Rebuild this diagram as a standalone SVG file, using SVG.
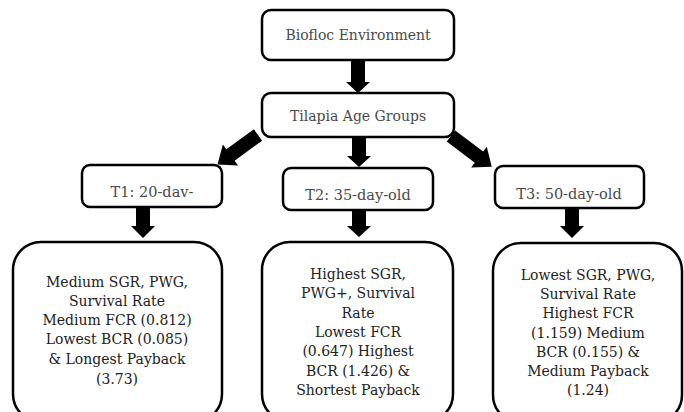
<svg xmlns="http://www.w3.org/2000/svg" width="684" height="412" viewBox="0 0 684 412">
<style>
.box{fill:#fff;stroke:#000;stroke-width:2.5}
.t{font-family:"DejaVu Serif","Liberation Serif",serif;text-anchor:middle}
.top{font-size:14px;fill:#4a4a4a}
.mid{font-size:14.5px;fill:#4a4a4a}
.bot{font-size:14px;fill:#222}
.arr{fill:#000}
</style>
<rect width="684" height="412" fill="#fff"/>
<g id="connectors">
<polygon class="arr" points="351,60 365,60 365,82 370,82 358,93 346,82 351,82"/>
<polygon class="arr" points="352,137 366,137 366,156 371,156 359,167 347,156 352,156"/>
<polygon class="arr" points="136,207 150,207 150,226 155,226 143,238 131,226 136,226"/>
<polygon class="arr" points="352,210 366,210 366,226 371,226 359,237 347,226 352,226"/>
<polygon class="arr" points="565,208 579,208 579,226 584,226 572,238 560,226 565,226"/>
<polygon class="arr" transform="translate(258,135) rotate(144)" points="0,-7 34,-7 34,-13 50,0 34,13 34,7 0,7"/>
<polygon class="arr" transform="translate(451,136) rotate(37)" points="0,-7 35,-7 35,-13 51,0 35,13 35,7 0,7"/>
</g>
<g id="n-biofloc">
<rect class="box" x="262" y="10" width="192" height="50" rx="9"/>
<text class="t top" x="358" y="40">Biofloc Environment</text>
</g>
<g id="n-tilapia">
<rect class="box" x="262" y="93" width="192" height="44" rx="9"/>
<text class="t top" x="358" y="121">Tilapia Age Groups</text>
</g>
<g id="n-t1">
<rect class="box" x="82" y="165" width="140" height="42" rx="8"/>
<text class="t mid" x="152" y="197">T1: 20-dav-</text>
</g>
<g id="n-t2">
<rect class="box" x="283" y="168" width="150" height="42" rx="8"/>
<text class="t mid" x="358" y="200">T2: 35-day-old</text>
</g>
<g id="n-t3">
<rect class="box" x="495" y="166" width="149" height="42" rx="8"/>
<text class="t mid" x="569" y="199">T3: 50-day-old</text>
</g>
<g id="n-r1">
<rect class="box" x="13" y="242" width="209" height="180" rx="28"/>
<text class="t bot" x="117" y="287">Medium SGR, PWG,</text>
<text class="t bot" x="117" y="306">Survival Rate</text>
<text class="t bot" x="117" y="325">Medium FCR (0.812)</text>
<text class="t bot" x="117" y="344">Lowest BCR (0.085)</text>
<text class="t bot" x="117" y="364">&amp; Longest Payback</text>
<text class="t bot" x="117" y="384">(3.73)</text>
</g>
<g id="n-r2">
<rect class="box" x="262" y="242" width="191" height="180" rx="28"/>
<text class="t bot" x="358" y="279">Highest SGR,</text>
<text class="t bot" x="358" y="298">PWG+, Survival</text>
<text class="t bot" x="358" y="318">Rate</text>
<text class="t bot" x="358" y="337">Lowest FCR</text>
<text class="t bot" x="358" y="356">(0.647) Highest</text>
<text class="t bot" x="358" y="376">BCR (1.426) &amp;</text>
<text class="t bot" x="358" y="395">Shortest Payback</text>
</g>
<g id="n-r3">
<rect class="box" x="493" y="243" width="189" height="180" rx="28"/>
<text class="t bot" x="588" y="280">Lowest SGR, PWG,</text>
<text class="t bot" x="588" y="299">Survival Rate</text>
<text class="t bot" x="588" y="318">Highest FCR</text>
<text class="t bot" x="588" y="338">(1.159) Medium</text>
<text class="t bot" x="588" y="357">BCR (0.155) &amp;</text>
<text class="t bot" x="588" y="376">Medium Payback</text>
<text class="t bot" x="588" y="395">(1.24)</text>
</g>
</svg>
